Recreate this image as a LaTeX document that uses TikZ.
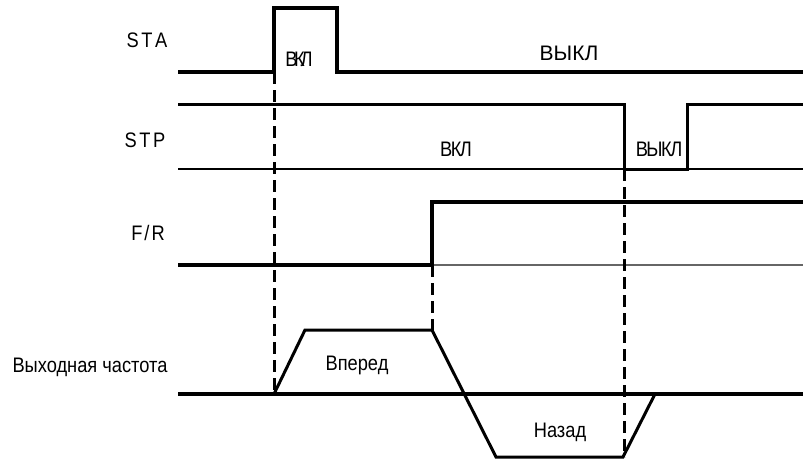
\documentclass[tikz,border=0pt]{standalone}
\usepackage{fontspec}
\setmainfont{Liberation Sans}
\newfontfamily\narrowsans[FakeStretch=0.87]{Liberation Sans}
\begin{document}
\begin{tikzpicture}[x=1pt,y=-1pt,
  thickline/.style={line width=3.2pt, line join=miter},
  medline/.style={line width=3pt, line join=miter},
  thinline/.style={line width=1.8pt},
  dashline/.style={line width=3pt, dash pattern=on 12pt off 6pt},
  lbl/.style={font=\narrowsans\fontsize{21}{24}\selectfont, inner sep=0pt, anchor=base},
  widelbl/.style={font=\fontsize{21}{24}\selectfont, inner sep=0pt, anchor=base}]
\useasboundingbox (0,0) rectangle (803,459);
% STA
\draw[thickline] (178,72) -- (274,72) -- (274,8) -- (337,8) -- (337,72) -- (803,72);
% STP
\draw[thinline] (178,169) -- (803,169);
\draw[medline] (178,104) -- (624,104) -- (624,169) -- (687,169) -- (687,104) -- (803,104);
% F/R
\draw[thinline, black!60] (432,265) -- (803,265);
\draw[thickline] (178,265) -- (432,265) -- (432,202) -- (803,202);
% Output frequency
\draw[thickline] (178,394) -- (803,394);
\draw[medline] (274,394) -- (305,330) -- (432,330) -- (496,457) -- (623,457) -- (655,394);
% dashed guides
\draw[dashline] (274,72) -- (274,394);
\draw[dashline] (432,265) -- (432,330);
\draw[dashline] (624,169) -- (624,457);
% labels
\node[lbl] (lsta) at (147,47) {S\kern2.5pt T\kern2.5pt A};
\node[lbl] (lstp) at (145,147) {S\kern2.5pt T\kern2.5pt P};
\node[lbl] (lfr) at (148,240) {F\kern2pt /\kern2pt R};
\node[lbl] (lout) at (90,372) {Выходная частота};
\node[lbl] (on1) at (299,66) {В\kern-3.5pt К\kern-4pt Л};
\node[widelbl] (off1) at (569,60) {ВЫКЛ};
\node[lbl] (on2) at (456,156) {В\kern-1.5pt К\kern-1.5pt Л};
\node[lbl] (off2) at (659,156) {В\kern-1.5pt Ы\kern-1.5pt К\kern-1.5pt Л};
\node[lbl] (fwd) at (357,370) {Вперед};
\node[lbl] (rev) at (560,437) {Назад};
\end{tikzpicture}
\end{document}
